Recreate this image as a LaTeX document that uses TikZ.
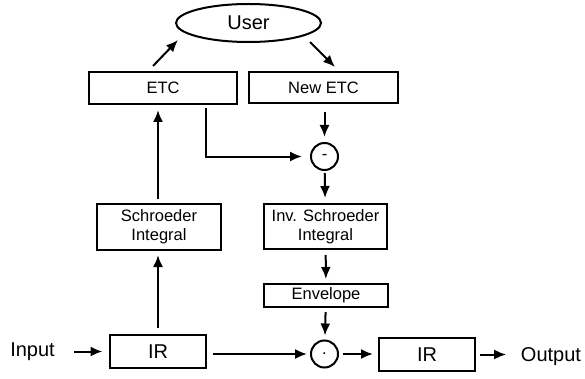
\documentclass[tikz,border=0pt]{standalone}
\usepackage{fontspec}
\setmainfont{Liberation Sans}
\usetikzlibrary{arrows.meta,shapes.geometric}
\newcommand{\pth}[4]{\path (#1) edge[shorten <=#2pt,shorten >=#3pt] (#4); }

\begin{document}
\begin{tikzpicture}[->,>={Latex[length=12pt,width=10pt]},line width=2pt,x=1pt,y=1pt,
    every node/.style={font=\fontsize{16.5}{19}\selectfont},
    big/.style={font=\fontsize{20}{24}\selectfont},
    box/.style={draw,rectangle,inner sep=2pt,align=center},
    sum/.style={draw,circle,minimum size=27pt,inner sep=0pt}]
  \useasboundingbox (0,0) rectangle (585,378);
  \node[draw,ellipse,big,minimum width=145pt,minimum height=38pt] (user) at (248.5,355) {User};
  \node[box,minimum width=148pt,minimum height=32pt] (etc) at (163,290) {ETC};
  \node[box,minimum width=149pt,minimum height=31pt] (netc) at (323.5,290.5) {New ETC};
  \node[sum] (minus) at (324.5,221.5) {-};
  \node[box,minimum width=124pt,minimum height=46pt] (schr) at (159,151) {Schroeder\\Integral};
  \node[box,minimum width=123pt,minimum height=45pt] (inv) at (325.5,151.5) {Inv. Schroeder\\Integral};
  \node[box,minimum width=124pt,minimum height=23pt] (env) at (326,82.5) {Envelope};
  \node[sum] (dot) at (324.5,24) {.};
  \node[box,big,minimum width=96pt,minimum height=33pt] (ir) at (158,26.5) {IR};
  \node[box,big,minimum width=96pt,minimum height=33pt] (irout) at (427,23.5) {IR};
  \node[big] (input) at (32.5,26.3) {Input};
  \node[big] (output) at (551,21.5) {Output};
  % top loop
  \draw ([shift={(-10,5)}]etc.north) -- ([shift={(-70.5,-17)}]user.center);
  \draw ([shift={(61.5,-19)}]user.center) -- ([shift={(11.5,4)}]netc.north);
  \draw[shorten <=3pt,shorten >=8pt] ([xshift=43pt]etc.south) |- (minus);
  \draw[shorten <=8pt,shorten >=5pt] (netc.south -| minus) -- (minus);
  \pth{minus}{2}{5}{inv}
  \pth{inv}{5}{4}{env}
  \pth{env}{4}{4}{dot}
  % left column
  \draw[shorten <=6pt,shorten >=4pt] (ir.north) -- (ir.north |- schr.south);
  \draw[shorten <=4pt,shorten >=5pt] (ir.north |- schr.north) -- (ir.north |- etc.south);
  % bottom row
  \draw[shorten <=15pt,shorten >=6.5pt] (input.east |- ir) -- (ir.west);
  \draw[shorten <=6pt,shorten >=3pt] (ir.east |- dot) -- (dot);
  \draw[shorten <=4pt,shorten >=5pt] (dot) -- (dot -| irout.west);
  \draw[shorten <=4pt,shorten >=10.5pt] (irout.east) -- (irout.east -| output.west);
\end{tikzpicture}
\end{document}
